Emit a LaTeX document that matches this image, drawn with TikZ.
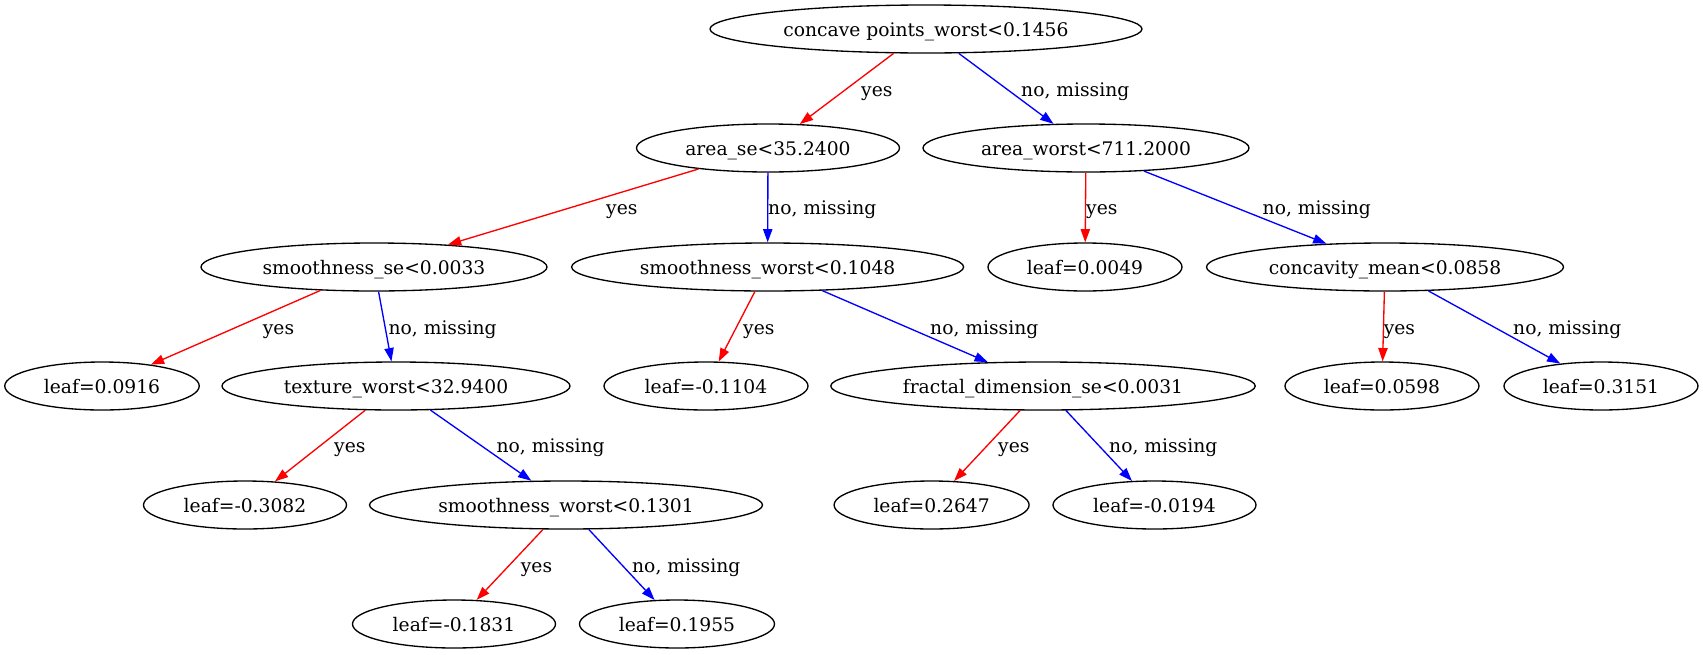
\documentclass[tikz,border=0pt]{standalone}
\usepackage{fontspec}
\setmainfont{DejaVu Serif}
\usetikzlibrary{shapes.geometric,arrows.meta}
\begin{document}
\begin{tikzpicture}[x=1pt,y=-1pt,
  font=\fontsize{18.7}{22}\selectfont,
  nd/.style={ellipse, draw=black, line width=1.33pt, inner sep=0pt,
    minimum height=48pt, text height=14pt, text depth=0pt},
  ed/.style={line width=1.33pt, -{Triangle[length=13.3pt,width=9.3pt]}},
  yesedge/.style={ed, draw=red, fill=red},
  noedge/.style={ed, draw=blue, fill=blue},
  lbl/.style={anchor=base west, inner sep=0pt}]
\useasboundingbox (0,0) rectangle (1703,654);
% nodes
\node[nd, minimum width=432pt] (n0) at (926,29) {concave points\_worst<0.1456};
\node[nd, minimum width=263pt] (n1) at (768,148) {area\_se<35.2400};
\node[nd, minimum width=326pt] (n2) at (1086,148) {area\_worst<711.2000};
\node[nd, minimum width=346pt] (n3) at (374,267) {smoothness\_se<0.0033};
\node[nd, minimum width=392pt] (n4) at (767.6,267) {smoothness\_worst<0.1048};
\node[nd, minimum width=194pt] (n5) at (1085,267) {leaf=0.0049};
\node[nd, minimum width=357pt] (n6) at (1385,267) {concavity\_mean<0.0858};
\node[nd, minimum width=194.5pt] (n7) at (102,386) {leaf=0.0916};
\node[nd, minimum width=348pt] (n8) at (396,386) {texture\_worst<32.9400};
\node[nd, minimum width=204pt] (n9) at (706,386) {leaf=-0.1104};
\node[nd, minimum width=424.5pt] (n10) at (1043,386) {fractal\_dimension\_se<0.0031};
\node[nd, minimum width=194pt] (n11) at (1382,386) {leaf=0.0598};
\node[nd, minimum width=194pt] (n12) at (1601,386) {leaf=0.3151};
\node[nd, minimum width=203pt] (n13) at (245,505) {leaf=-0.3082};
\node[nd, minimum width=393pt] (n14) at (566,505) {smoothness\_worst<0.1301};
\node[nd, minimum width=195pt] (n15) at (931.6,505) {leaf=0.2647};
\node[nd, minimum width=203pt] (n16) at (1154.5,505) {leaf=-0.0194};
\node[nd, minimum width=203pt] (n17) at (454,624) {leaf=-0.1831};
\node[nd, minimum width=195pt] (n18) at (677,624) {leaf=0.1955};
% edges
\draw[yesedge] (n0) -- (n1);
\draw[noedge] (n0) -- (n2);
\draw[yesedge] (n1) -- (n3);
\draw[noedge] (n1) -- (n4);
\draw[yesedge] (n2) -- (n5);
\draw[noedge] (n2) -- (n6);
\draw[yesedge] (n3) -- (n7);
\draw[noedge] (n3) -- (n8);
\draw[yesedge] (n4) -- (n9);
\draw[noedge] (n4) -- (n10);
\draw[yesedge] (n6) -- (n11);
\draw[noedge] (n6) -- (n12);
\draw[yesedge] (n8) -- (n13);
\draw[noedge] (n8) -- (n14);
\draw[yesedge] (n10) -- (n15);
\draw[noedge] (n10) -- (n16);
\draw[yesedge] (n14) -- (n17);
\draw[noedge] (n14) -- (n18);
% labels
\node[lbl] (l1) at (861,96) {yes};
\node[lbl] (l2) at (1021,96) {no, missing};
\node[lbl] (l3) at (606,214) {yes};
\node[lbl] (l4) at (768,214) {no, missing};
\node[lbl] (l5) at (1086,214) {yes};
\node[lbl] (l6) at (1262.5,214) {no, missing};
\node[lbl] (l7) at (262.7,334) {yes};
\node[lbl] (l8) at (388.4,334) {no, missing};
\node[lbl] (l9) at (743,334) {yes};
\node[lbl] (l10) at (930,334) {no, missing};
\node[lbl] (l11) at (1383.6,334) {yes};
\node[lbl] (l12) at (1513,334) {no, missing};
\node[lbl] (l13) at (334,452.7) {yes};
\node[lbl] (l14) at (496.4,452.7) {no, missing};
\node[lbl] (l15) at (998,452.7) {yes};
\node[lbl] (l16) at (1109,452.7) {no, missing};
\node[lbl] (l17) at (520.7,572) {yes};
\node[lbl] (l18) at (632,572) {no, missing};
\end{tikzpicture}
\end{document}
